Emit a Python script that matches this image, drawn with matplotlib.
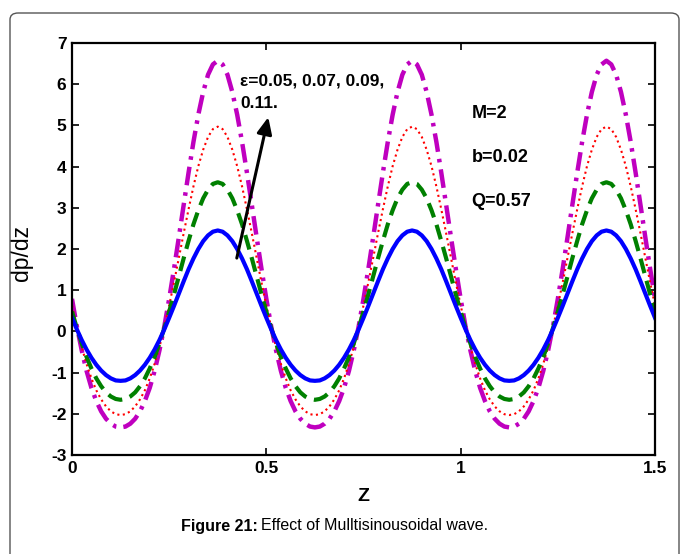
import numpy as np
import matplotlib
matplotlib.use("Agg")
import matplotlib.pyplot as plt
from matplotlib.patches import FancyBboxPatch

plt.rcParams['font.family'] = ['Liberation Sans', 'DejaVu Sans']
plt.rcParams['axes.unicode_minus'] = False

# one period of each curve at z = 0, 0.0125, ..., 0.4875
# (the plot repeats every 0.5 in z)
z_step = 0.0125
n_periods = 3
blue_period = [0.33, 0.05, -0.21, -0.44, -0.64, -0.81, -0.95, -1.06, -1.14, -1.19,
               -1.20, -1.19, -1.14, -1.06, -0.95, -0.81, -0.64, -0.44, -0.21, 0.05,
               0.33, 0.62, 0.92, 1.22, 1.51, 1.77, 2.00, 2.19, 2.33, 2.42,
               2.45, 2.42, 2.33, 2.19, 2.00, 1.77, 1.51, 1.22, 0.92, 0.62]
green_period = [0.48, 0.08, -0.29, -0.62, -0.90, -1.14, -1.33, -1.48, -1.58, -1.64,
                -1.66, -1.64, -1.58, -1.48, -1.33, -1.14, -0.90, -0.62, -0.29, 0.08,
                0.48, 0.90, 1.34, 1.78, 2.20, 2.60, 2.94, 3.23, 3.44, 3.58,
                3.62, 3.58, 3.44, 3.23, 2.94, 2.60, 2.20, 1.78, 1.34, 0.90]
red_period = [0.63, 0.10, -0.38, -0.79, -1.14, -1.43, -1.65, -1.82, -1.94, -2.01,
              -2.03, -2.01, -1.94, -1.82, -1.65, -1.43, -1.14, -0.79, -0.38, 0.10,
              0.63, 1.19, 1.79, 2.39, 2.97, 3.52, 4.01, 4.41, 4.72, 4.91,
              4.97, 4.91, 4.72, 4.41, 4.01, 3.52, 2.97, 2.39, 1.79, 1.19]
magenta_period = [0.79, 0.12, -0.46, -0.96, -1.37, -1.69, -1.94, -2.12, -2.24, -2.31,
                  -2.33, -2.31, -2.24, -2.12, -1.94, -1.69, -1.37, -0.96, -0.46, 0.12,
                  0.79, 1.52, 2.29, 3.08, 3.86, 4.60, 5.26, 5.81, 6.23, 6.48,
                  6.57, 6.48, 6.23, 5.81, 5.26, 4.60, 3.86, 3.08, 2.29, 1.52]

x_ticks = [0, 0.5, 1, 1.5]
x_tick_labels = ['0', '0.5', '1', '1.5']
y_ticks = [-3, -2, -1, 0, 1, 2, 3, 4, 5, 6, 7]


def full_curve(period):
    vals = list(period) * n_periods + [period[0]]
    return np.array(vals)


z = np.arange(len(blue_period) * n_periods + 1) * z_step

fig = plt.figure(figsize=(6.81, 5.54), dpi=100)
W, H = 681, 554

# frame round the figure, its bottom edge falls outside the picture
frame = FancyBboxPatch((10 / W, -30 / H), 669 / W, (554 - 13 + 30) / H,
                       boxstyle="round,pad=0,rounding_size=0.012",
                       transform=fig.transFigure, facecolor='none',
                       edgecolor='#555555', linewidth=1.0, clip_on=False)
fig.patches.append(frame)

ax = fig.add_axes([72 / W, 1 - 455 / H, 583 / W, 412 / H])

ax.plot(z, full_curve(magenta_period), color='#bf00bf', linewidth=3.2,
        dashes=(4.2, 1.6, 0.8, 1.6))
ax.plot(z, full_curve(red_period), color='#ff0000', linewidth=1.5, linestyle=':')
ax.plot(z, full_curve(green_period), color='#008000', linewidth=3.0,
        dashes=(3.6, 1.9))
ax.plot(z, full_curve(blue_period), color='#0000ff', linewidth=3.0)

ax.set_xlim(0, 1.5)
ax.set_ylim(-3, 7)
ax.set_xticks(x_ticks)
ax.set_xticklabels(x_tick_labels)
ax.set_yticks(y_ticks)
ax.tick_params(direction='in', length=5, width=1.2, top=True, right=True,
               labelsize=12.5, pad=4)
for lab in ax.get_xticklabels() + ax.get_yticklabels():
    lab.set_fontweight('bold')
for sp in ax.spines.values():
    sp.set_linewidth(1.6)

ax.set_xlabel('Z', fontsize=14, fontweight='bold')
ax.xaxis.set_label_coords(0.5, -0.08)
ax.set_ylabel('dp/dz', fontsize=16.5)
ax.yaxis.set_label_coords(-0.067, 0.49)

# arrow and parameter labels
ax.annotate('', xy=(0.505, 5.2), xytext=(0.424, 1.78),
            arrowprops=dict(arrowstyle='-|>,head_length=1.0,head_width=0.45',
                            color='black', lw=2.2, shrinkA=0, shrinkB=0))
ax.text(0.432, 6.08, 'ε=0.05, 0.07, 0.09,', fontsize=12.5, fontweight='bold',
        va='center', ha='left')
ax.text(0.432, 5.54, '0.11.', fontsize=12.5, fontweight='bold',
        va='center', ha='left')
ax.text(1.028, 5.29, 'M=2', fontsize=13, fontweight='bold', va='center')
ax.text(1.028, 4.22, 'b=0.02', fontsize=13, fontweight='bold', va='center')
ax.text(1.028, 3.15, 'Q=0.57', fontsize=13, fontweight='bold', va='center')

# caption
fig.text(258 / W, 1 - 526 / H, 'Figure 21:', fontsize=11.5, fontweight='bold',
         ha='right', va='center')
fig.text(261 / W, 1 - 526 / H, 'Effect of Mulltisinousoidal wave.', fontsize=11.5,
         ha='left', va='center')

fig.savefig('out.png', dpi=100)
